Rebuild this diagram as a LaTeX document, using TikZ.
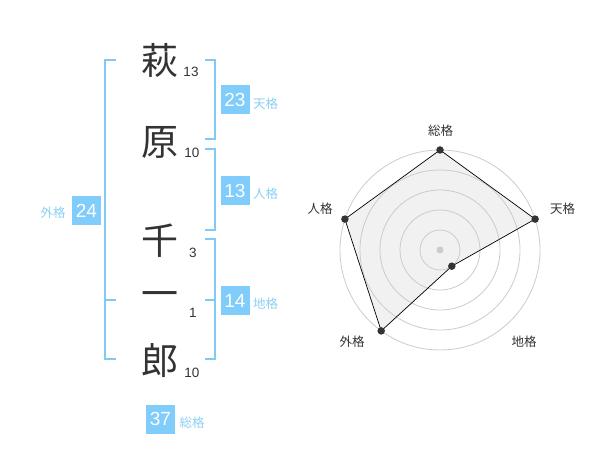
\documentclass[tikz,border=0pt]{standalone}
\usepackage{fontspec}
\setmainfont{Liberation Sans}
\newfontfamily\jp{Noto Sans CJK JP}
\definecolor{brk}{HTML}{7FCBF5}
\definecolor{boxc}{HTML}{80CCFA}
\definecolor{lbl}{HTML}{8CD0F5}
\definecolor{ink}{HTML}{333333}
\definecolor{grid}{HTML}{CCCCCC}
\definecolor{area}{HTML}{F1F1F1}
\tikzset{
  kanji/.style={inner sep=0pt, text=ink, font=\jp\fontsize{37}{37}\selectfont},
  stroke/.style={inner sep=0pt, text=ink, font=\fontsize{13.5}{13.5}\selectfont},
  numbox/.style={fill=boxc, text=white, minimum width=29pt, minimum height=29pt, inner sep=0pt, font=\fontsize{19}{19}\selectfont},
  kaku/.style={inner sep=0pt, text=lbl, font=\jp\fontsize{12.5}{12.5}\selectfont},
  bracket/.style={draw=brk, line width=2pt},
  ring/.style={draw=grid, line width=0.8pt},
  rlabel/.style={inner sep=0pt, text=ink, font=\jp\fontsize{12.5}{12.5}\selectfont},
  dot/.style={circle, fill=ink, inner sep=0pt, minimum size=7.5pt},
}
\begin{document}
\begin{tikzpicture}[x=1pt,y=-1pt]
\useasboundingbox (0,0) rectangle (600,470);
\fill[white] (0,0) rectangle (600,470);
% kanji
\node[kanji] (k1) at (160,60) {萩};
\node[kanji] (k2) at (160,142) {原};
\node[kanji] (k3) at (160,241) {千};
\node[kanji] (k4) at (160,300) {一};
\node[kanji] (k5) at (160,361) {郎};
\node[stroke] (s1) at (191,72) {13};
\node[stroke] (s2) at (192,153) {10};
\node[stroke] (s3) at (193,253) {3};
\node[stroke] (s4) at (193,313) {1};
\node[stroke] (s5) at (192,372.5) {10};
% brackets
\draw[bracket] (116,60) -- (105,60) -- (105,359) -- (116,359);
\draw[bracket] (105,300) -- (116,300);
\draw[bracket] (205,60) -- (215,60) -- (215,139) -- (205,139);
\draw[bracket] (205,149) -- (215,149) -- (215,230) -- (205,230);
\draw[bracket] (205,239) -- (215,239) -- (215,359) -- (205,359);
\draw[bracket] (205,300) -- (215,300);
% boxes
\node[numbox] (ten) at (235,100) {23};
\node[kaku] (tenl) at (265.5,104) {天格};
\node[numbox] (jin) at (235,190.5) {13};
\node[kaku] (jinl) at (265.5,194) {人格};
\node[numbox] (chi) at (235,300.5) {14};
\node[kaku] (chil) at (265.5,304) {地格};
\node[numbox] (gai) at (86.5,210.5) {24};
\node[kaku] (gail) at (53,213) {外格};
\node[numbox] (sou) at (160.5,419) {37};
\node[kaku] (soul) at (192,423) {総格};
% radar
\coordinate (c) at (440,250);
\coordinate (pS) at (440,150);
\coordinate (pT) at (535.1,219.1);
\coordinate (pC) at (451.8,266.2);
\coordinate (pG) at (381.2,330.9);
\coordinate (pJ) at (344.9,219.1);
\fill[area] (pS) -- (pT) -- (pC) -- (pG) -- (pJ) -- cycle;
\foreach \r in {20,40,60,80,100} \draw[ring] (c) circle[radius=\r];
\draw[black, line width=0.7pt, line join=round] (pS) -- (pT) -- (pC) -- (pG) -- (pJ) -- cycle;
\fill[grid] (c) circle[radius=3.5];
\foreach \p in {pS,pT,pC,pG,pJ} \node[dot] at (\p) {};
\node[rlabel] (rS) at (440.5,131) {総格};
\node[rlabel] (rT) at (562.5,208.5) {天格};
\node[rlabel] (rC) at (524,342) {地格};
\node[rlabel] (rG) at (352,342) {外格};
\node[rlabel] (rJ) at (320,208.5) {人格};
\end{tikzpicture}
\end{document}
